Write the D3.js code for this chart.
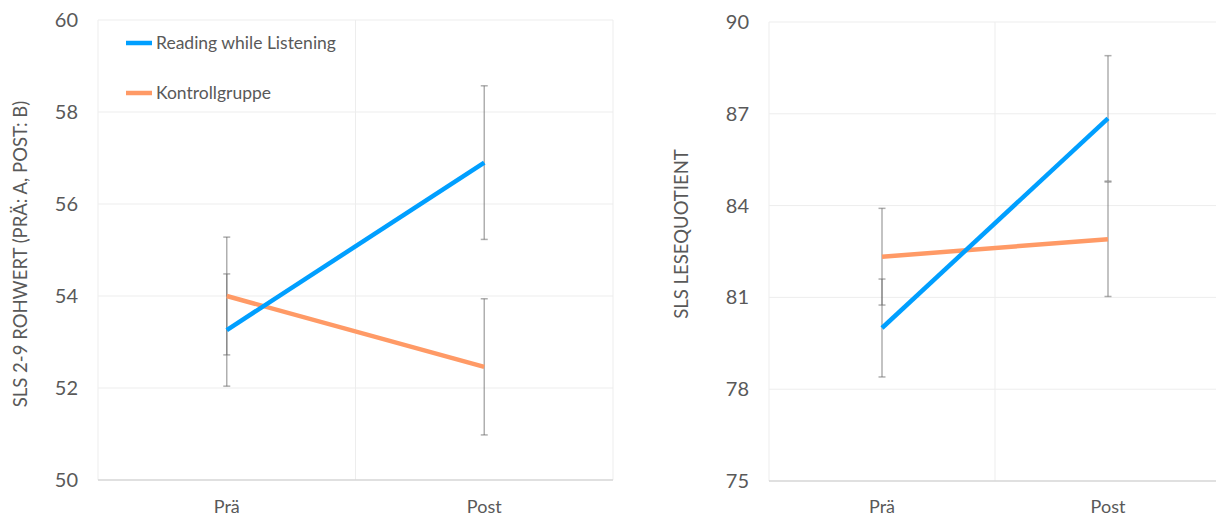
<!DOCTYPE html>
<html>
<head>
<meta charset="utf-8">
<script src="https://cdn.jsdelivr.net/npm/d3@7"></script>
<style>
  html, body { margin: 0; padding: 0; background: #fff; }
  svg text { font-family: Lato, "Noto Sans", sans-serif; fill: #595959; }
</style>
</head>
<body>
<svg id="chart" width="1216" height="517"></svg>
<script>
// categories and series
const categories = ['Prä', 'Post'];
const seriesNames = ['Reading while Listening', 'Kontrollgruppe'];
const seriesColors = ['#009fff', '#ff9a66'];

// left panel: SLS 2-9 Rohwert
const rohTicks = [50, 52, 54, 56, 58, 60];
const rohRwl = [53.26, 56.9];
const rohRwlErr = [1.22, 1.67];
const rohKg = [54.0, 52.46];
const rohKgErr = [1.28, 1.48];

// right panel: SLS Lesequotient
const lqTicks = [75, 78, 81, 84, 87, 90];
const lqRwl = [80.0, 86.85];
const lqRwlErr = [1.6, 2.05];
const lqKg = [82.33, 82.9];
const lqKgErr = [1.58, 1.87];

const svg = d3.select('#chart');

function drawPanel(cfg) {
    let x = d3.scalePoint()
        .domain(categories)
        .range([cfg.left, cfg.right])
        .padding(0.5);
    let y = d3.scaleLinear()
        .domain(d3.extent(cfg.ticks))
        .range([cfg.bottom, cfg.top]);

    let g = svg.append('g');

    // horizontal grid
    g.selectAll('line.hgrid')
        .data(cfg.ticks.slice(1))
        .enter().append('line')
        .attr('x1', cfg.left).attr('x2', cfg.right)
        .attr('y1', d => y(d)).attr('y2', d => y(d))
        .attr('stroke', '#ededed').attr('stroke-width', 1);

    // vertical grid: edges + between the categories
    let step = x.step();
    let vx = [cfg.left, cfg.left + step, cfg.right];
    g.selectAll('line.vgrid')
        .data(vx)
        .enter().append('line')
        .attr('x1', d => d).attr('x2', d => d)
        .attr('y1', cfg.top).attr('y2', cfg.bottom)
        .attr('stroke', '#ededed').attr('stroke-width', 1);

    // bottom axis line
    g.append('line')
        .attr('x1', cfg.left).attr('x2', cfg.right)
        .attr('y1', cfg.bottom).attr('y2', cfg.bottom)
        .attr('stroke', '#d6d6d6').attr('stroke-width', 1.5);

    // y tick labels
    g.selectAll('text.ytick')
        .data(cfg.ticks)
        .enter().append('text')
        .attr('x', cfg.left - 20)
        .attr('y', d => y(d) + 7)
        .attr('text-anchor', 'end')
        .style('font-size', '20px')
        .text(d => d);

    // x labels
    g.selectAll('text.xtick')
        .data(categories)
        .enter().append('text')
        .attr('x', d => x(d))
        .attr('y', 513)
        .attr('text-anchor', 'middle')
        .style('font-size', '18px')
        .text(d => d);

    // y title
    g.append('text')
        .attr('transform', 'translate(' + cfg.titleX + ',' + cfg.titleY + ') rotate(-90)')
        .attr('text-anchor', 'middle')
        .style('font-size', '18.5px')
        .text(cfg.title);

    let series = [
        { vals: cfg.rwl, err: cfg.rwlErr, color: seriesColors[0] },
        { vals: cfg.kg, err: cfg.kgErr, color: seriesColors[1] }
    ];

    // error bars
    series.forEach(function(s) {
        let eb = g.append('g')
            .attr('stroke', '#6e6e6e')
            .attr('stroke-opacity', 0.55)
            .attr('stroke-width', 1.5);
        categories.forEach(function(c, i) {
            let cx = x(c);
            let hi = y(s.vals[i] + s.err[i]);
            let lo = y(s.vals[i] - s.err[i]);
            eb.append('line').attr('x1', cx).attr('x2', cx).attr('y1', hi).attr('y2', lo);
            eb.append('line').attr('x1', cx - 3.5).attr('x2', cx + 3.5).attr('y1', hi).attr('y2', hi);
            eb.append('line').attr('x1', cx - 3.5).attr('x2', cx + 3.5).attr('y1', lo).attr('y2', lo);
        });
    });

    // lines (control group first so the RwL line sits on top)
    let line = d3.line()
        .x((d, i) => x(categories[i]))
        .y(d => y(d));
    [series[1], series[0]].forEach(function(s) {
        g.append('path')
            .datum(s.vals)
            .attr('d', line)
            .attr('fill', 'none')
            .attr('stroke', s.color)
            .attr('stroke-width', 4.5);
    });
}

drawPanel({
    left: 98, right: 613, top: 20, bottom: 480,
    ticks: rohTicks,
    rwl: rohRwl, rwlErr: rohRwlErr, kg: rohKg, kgErr: rohKgErr,
    title: 'SLS 2-9 ROHWERT (PRÄ: A, POST: B)', titleX: 27, titleY: 254
});

drawPanel({
    left: 769, right: 1221, top: 22, bottom: 481,
    ticks: lqTicks,
    rwl: lqRwl, rwlErr: lqRwlErr, kg: lqKg, kgErr: lqKgErr,
    title: 'SLS LESEQUOTIENT', titleX: 688, titleY: 234
});

// legend
let legend = svg.append('g');
legend.selectAll('g.item')
    .data(seriesNames)
    .enter().append('g')
    .each(function(d, i) {
        let item = d3.select(this);
        let ly = 43 + i * 50;
        item.append('line')
            .attr('x1', 126).attr('x2', 152)
            .attr('y1', ly).attr('y2', ly)
            .attr('stroke', seriesColors[i])
            .attr('stroke-width', 4.5);
        item.append('text')
            .attr('x', 156)
            .attr('y', ly + 6)
            .style('font-size', '17.5px')
            .text(d);
    });
</script>
</body>
</html>
